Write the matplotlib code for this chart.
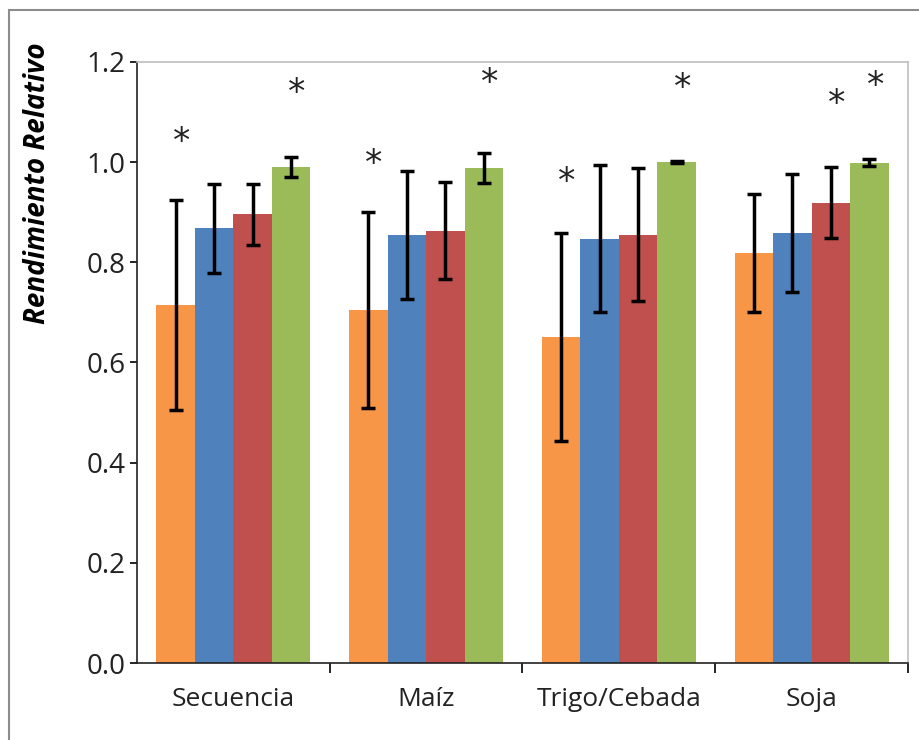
import matplotlib.pyplot as plt
from matplotlib.patches import Rectangle
import numpy as np

plt.rcParams['font.family'] = ['Open Sans', 'DejaVu Sans']

groups = ["Secuencia", "Maíz", "Trigo/Cebada", "Soja"]
colors = ["#F79646", "#4F81BD", "#C0504D", "#9BBB59"]

# bar heights per series (orange, blue, red, green)
orange = [0.715, 0.705, 0.651, 0.818]
blue = [0.868, 0.855, 0.847, 0.858]
red = [0.896, 0.863, 0.855, 0.919]
green = [0.990, 0.988, 1.000, 0.999]

orange_err = [0.209, 0.196, 0.207, 0.118]
blue_err = [0.089, 0.128, 0.147, 0.118]
red_err = [0.061, 0.097, 0.133, 0.071]
green_err = [0.020, 0.030, 0.002, 0.007]

# asterisks: (group index, series index, y)
stars = [(0, 0, 1.048), (0, 3, 1.146),
         (1, 0, 1.004), (1, 3, 1.166),
         (2, 0, 0.968), (2, 3, 1.156),
         (3, 2, 1.124), (3, 3, 1.160)]

series = [orange, blue, red, green]
errors = [orange_err, blue_err, red_err, green_err]

fig = plt.figure(figsize=(9.2, 7.4), dpi=100)
ax = fig.add_axes([137 / 920, 1 - 663 / 740, 771 / 920, 601 / 740])

x = np.arange(len(groups))
w = 0.2
for i, (vals, errs) in enumerate(zip(series, errors)):
    pos = x + (i - 1.5) * w
    ax.bar(pos, vals, width=w, color=colors[i], zorder=2)
    ax.errorbar(pos, vals, yerr=errs, fmt='none', ecolor='black',
                elinewidth=2.5, capsize=5, capthick=2.5, zorder=3)

for g, s, y in stars:
    ax.text(x[g] + (s - 1.5) * w + 0.03, y - 0.008, "*", ha='center', va='center',
            fontsize=25, color='#222222', family='DejaVu Sans')

ax.set_xlim(-0.5, 3.5)
ax.set_ylim(0, 1.2)
ax.set_yticks(np.arange(0, 1.21, 0.2))
ax.set_yticklabels([f"{v:.1f}" for v in np.arange(0, 1.21, 0.2)], fontsize=20,
                   color='#222222')
ax.set_xticks([0.5, 1.5, 2.5, 3.5])
ax.set_xticklabels([])
ax.set_xticks(x, minor=True)
ax.set_xticklabels(groups, minor=True, fontsize=19, color='#222222')
ax.tick_params(axis='x', which='major', direction='out', length=7, width=1.2)
ax.tick_params(axis='x', which='minor', length=0, pad=17)
ax.tick_params(axis='y', direction='out', length=5, width=1.2, pad=3)

for side in ['left', 'bottom']:
    ax.spines[side].set_color('#222222')
    ax.spines[side].set_linewidth(1.2)
for side in ['top', 'right']:
    ax.spines[side].set_color('#BFBFBF')
    ax.spines[side].set_linewidth(1.2)

fig.text(38 / 920, 1 - 183 / 740, "Rendimiento Relativo", rotation=90,
         ha='center', va='center', fontsize=20, fontstyle='italic',
         fontweight='bold', color='black')

fig.patches.append(Rectangle((9 / 920, -0.1), 1.2, (1 - 10 / 740) + 0.1,
                             transform=fig.transFigure, fill=False,
                             edgecolor='#8C8C8C', linewidth=1.5))

fig.savefig("out.png", dpi=100)
